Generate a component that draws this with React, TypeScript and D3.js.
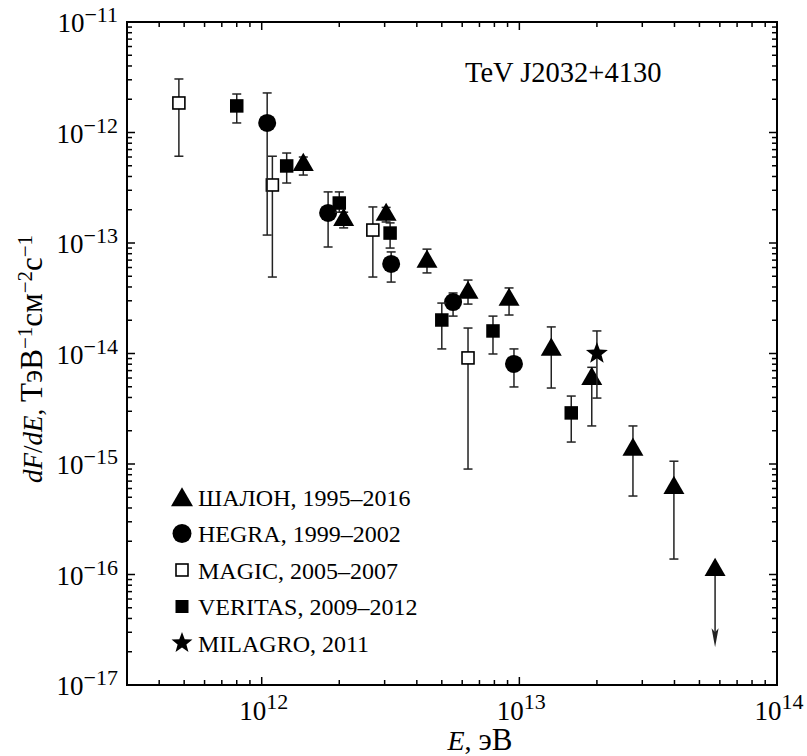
import React from "react";
import * as d3 from "d3";

// ШАЛОН (SHALON) 1995–2016
const shalonE = [1.45e12, 2.08e12, 3.04e12, 4.38e12, 6.32e12, 9.12e12, 1.33e13, 1.91e13, 2.76e13, 3.98e13, 5.75e13];
const shalonF = [5.4e-13, 1.72e-13, 1.91e-13, 7.2e-14, 3.76e-14, 3.25e-14, 1.15e-14, 6.25e-15, 1.43e-15, 6.46e-16, 1.17e-16];
const shalonHi = [6.0e-13, 1.9e-13, 2.1e-13, 8.8e-14, 4.62e-14, 3.92e-14, 1.74e-14, 7.5e-15, 2.21e-15, 1.06e-15, 1.17e-16];
const shalonLo = [4.12e-13, 1.37e-13, 1.55e-13, 5.36e-14, 2.8e-14, 2.23e-14, 4.87e-15, 2.21e-15, 5.13e-16, 1.38e-16, 2.2e-17];
const shalonUpperLimit = [false, false, false, false, false, false, false, false, false, false, true];

// HEGRA 1999–2002
const hegraE = [1.05e12, 1.81e12, 3.18e12, 5.53e12, 9.53e12];
const hegraF = [1.22e-12, 1.87e-13, 6.46e-14, 2.92e-14, 8.04e-15];
const hegraHi = [2.28e-12, 2.9e-13, 8.3e-14, 3.53e-14, 1.1e-14];
const hegraLo = [1.18e-13, 9.2e-14, 4.43e-14, 2.18e-14, 4.98e-15];

// MAGIC 2005–2007
const magicE = [4.77e11, 1.1e12, 2.7e12, 6.32e12];
const magicF = [1.85e-12, 3.35e-13, 1.31e-13, 9.12e-15];
const magicHi = [3.05e-12, 6.1e-13, 2.12e-13, 1.7e-14];
const magicLo = [6.1e-13, 4.92e-14, 4.92e-14, 9.0e-16];

// VERITAS 2009–2012
const veritasE = [8.0e11, 1.25e12, 2.0e12, 3.15e12, 5.0e12, 7.9e12, 1.59e13];
const veritasF = [1.74e-12, 4.98e-13, 2.3e-13, 1.23e-13, 2.01e-14, 1.6e-14, 2.9e-15];
const veritasHi = [2.23e-12, 6.52e-13, 2.9e-13, 1.52e-13, 2.86e-14, 2.18e-14, 4.12e-15];
const veritasLo = [1.22e-12, 3.49e-13, 1.9e-13, 9.0e-14, 1.1e-14, 9.9e-15, 1.58e-15];

// MILAGRO 2011
const milagroE = [2.0e13];
const milagroF = [1.0e-14];
const milagroHi = [1.6e-14];
const milagroLo = [3.95e-15];

const legendLabels = ["ШАЛОН, 1995–2016", "HEGRA, 1999–2002", "MAGIC, 2005–2007", "VERITAS, 2009–2012", "MILAGRO, 2011"];
const xMajorExp = [12, 13, 14];
const yMajorExp = [-11, -12, -13, -14, -15, -16, -17];

const width = 807;
const height = 756;
const left = 127;
const right = 777;
const top = 22;
const bottom = 685;
const serif = "'Liberation Serif', 'DejaVu Serif', serif";

const x = d3.scaleLog().domain([3e11, 1e14]).range([left, right]);
const y = d3.scaleLog().domain([1e-17, 1e-11]).range([bottom, top]);

const isMajor = (v: number) => Math.abs(Math.log10(v) - Math.round(Math.log10(v))) < 1e-9;

const trianglePath = (s: number) => `M0,${-s * 0.88}L${s},${s * 0.85}L${-s},${s * 0.85}Z`;
const starPath = (r: number) => {
  const pts: string[] = [];
  for (let i = 0; i < 10; i++) {
    const rad = i % 2 === 0 ? r : r * 0.42;
    const a = -Math.PI / 2 + (i * Math.PI) / 5;
    pts.push(`${(rad * Math.cos(a)).toFixed(2)},${(rad * Math.sin(a)).toFixed(2)}`);
  }
  return "M" + pts.join("L") + "Z";
};

type Kind = "triangle" | "circle" | "open" | "square" | "star";

function Marker({ kind, cx, cy, legend = false }: { kind: Kind; cx: number; cy: number; legend?: boolean }) {
  if (kind === "triangle") return <path d={trianglePath(legend ? 11 : 10.5)} transform={`translate(${cx},${cy})`} fill="#000" />;
  if (kind === "circle") return <circle cx={cx} cy={cy} r={legend ? 9.5 : 9} fill="#000" />;
  if (kind === "open") {
    const s = 12;
    return <rect x={cx - s / 2} y={cy - s / 2} width={s} height={s} fill="#fff" stroke="#000" strokeWidth={1.6} />;
  }
  if (kind === "square") {
    const s = legend ? 13 : 13.5;
    return <rect x={cx - s / 2} y={cy - s / 2} width={s} height={s} fill="#000" />;
  }
  return <path d={starPath(legend ? 11 : 11.5)} transform={`translate(${cx},${cy})`} fill="#000" />;
}

function Series({ kind, E, F, hi, lo, ul }: { kind: Kind; E: number[]; F: number[]; hi: number[]; lo: number[]; ul?: boolean[] }) {
  const cap = 4.5;
  return (
    <g>
      {E.map((e, i) => {
        const cx = x(e);
        const yh = y(hi[i]);
        const yl = y(lo[i]);
        if (ul && ul[i]) {
          return (
            <g key={`e${i}`} stroke="#222" strokeWidth={1.5}>
              <line x1={cx} x2={cx} y1={y(F[i])} y2={yl - 14} />
              <path d={`M${cx},${yl}L${cx - 3.5},${yl - 19}L${cx},${yl - 15}L${cx + 3.5},${yl - 19}Z`} fill="#222" stroke="none" />
            </g>
          );
        }
        return (
          <g key={`e${i}`} stroke="#222" strokeWidth={1.5}>
            <line x1={cx} x2={cx} y1={yh} y2={yl} />
            <line x1={cx - cap} x2={cx + cap} y1={yh} y2={yh} />
            <line x1={cx - cap} x2={cx + cap} y1={yl} y2={yl} />
          </g>
        );
      })}
      {E.map((e, i) => (
        <Marker key={`m${i}`} kind={kind} cx={x(e)} cy={y(F[i])} />
      ))}
    </g>
  );
}

export default function App() {
  const xTicks = x.ticks().filter((v) => v > 3.01e11);
  const yTicks = y.ticks();
  const legendKinds: Kind[] = ["triangle", "circle", "open", "square", "star"];

  return (
    <svg width={width} height={height} style={{ position: "absolute", left: 0, top: 0, background: "#fff" }} fontFamily={serif}>
      <rect x={0} y={0} width={width} height={height} fill="#fff" />

      {/* ticks, pointing inward on all four sides */}
      <g stroke="#000" strokeWidth={1.5}>
        {xTicks.map((v) => {
          const len = isMajor(v) ? 8 : 5;
          const px = x(v);
          return (
            <g key={`xt${v}`}>
              <line x1={px} x2={px} y1={bottom} y2={bottom - len} />
              <line x1={px} x2={px} y1={top} y2={top + len} />
            </g>
          );
        })}
        {yTicks.map((v) => {
          const len = isMajor(v) ? 8 : 5;
          const py = y(v);
          return (
            <g key={`yt${v}`}>
              <line x1={left} x2={left + len} y1={py} y2={py} />
              <line x1={right} x2={right - len} y1={py} y2={py} />
            </g>
          );
        })}
      </g>

      <rect x={left} y={top} width={right - left} height={bottom - top} fill="none" stroke="#000" strokeWidth={2} />

      {/* tick labels */}
      <g fontSize={27} fill="#000">
        {yMajorExp.map((p) => (
          <text key={`yl${p}`} x={118} y={y(Math.pow(10, p)) + 10} textAnchor="end">
            10<tspan dy={-10} fontSize={22}>{`−${-p}`}</tspan>
          </text>
        ))}
        {xMajorExp.map((p) => (
          <text key={`xl${p}`} x={x(Math.pow(10, p)) + 2} y={720} textAnchor="middle">
            10<tspan dy={-11} fontSize={22}>{p}</tspan>
          </text>
        ))}
      </g>

      {/* axis titles */}
      <text x={480} y={750} fontSize={28} textAnchor="middle">
        <tspan fontStyle="italic">E</tspan>, <tspan fontSize={31}>эВ</tspan>
      </text>
      <text transform="rotate(-90)" x={-483} y={42} fontSize={27}>
        <tspan fontStyle="italic">dF</tspan>/<tspan fontStyle="italic">dE</tspan>, <tspan fontSize={31}>ТэВ</tspan>
        <tspan dy={-10} fontSize={21}>−1</tspan>
        <tspan dy={10} fontSize={31}>см</tspan>
        <tspan dy={-10} fontSize={21}>−2</tspan>
        <tspan dy={10} fontSize={31}>с</tspan>
        <tspan dy={-10} fontSize={21}>−1</tspan>
      </text>

      <text x={465} y={82} fontSize={28.5}>TeV J2032+4130</text>

      {/* data */}
      <Series kind="open" E={magicE} F={magicF} hi={magicHi} lo={magicLo} />
      <Series kind="circle" E={hegraE} F={hegraF} hi={hegraHi} lo={hegraLo} />
      <Series kind="square" E={veritasE} F={veritasF} hi={veritasHi} lo={veritasLo} />
      <Series kind="triangle" E={shalonE} F={shalonF} hi={shalonHi} lo={shalonLo} ul={shalonUpperLimit} />
      <Series kind="star" E={milagroE} F={milagroF} hi={milagroHi} lo={milagroLo} />

      {/* legend */}
      <g fontSize={24}>
        {legendLabels.map((label, i) => {
          const cy = 497 + i * 36.5;
          return (
            <g key={label}>
              <Marker kind={legendKinds[i]} cx={182} cy={cy} legend />
              <text x={198} y={cy + 8.5}>{label}</text>
            </g>
          );
        })}
      </g>
    </svg>
  );
}
